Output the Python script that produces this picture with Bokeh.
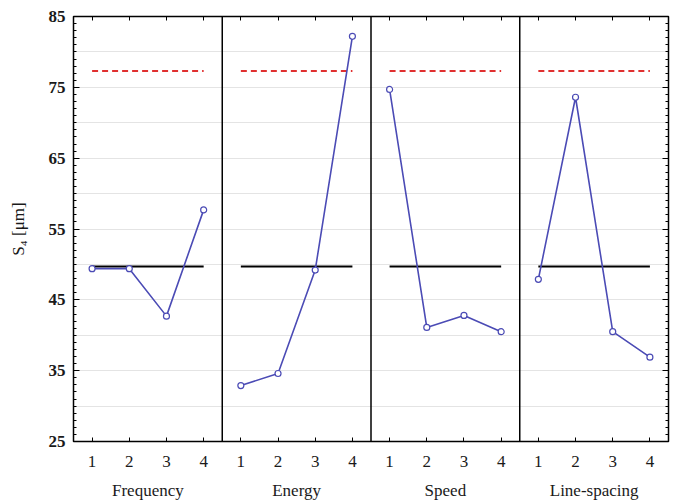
from bokeh.plotting import figure
from bokeh.models import Range1d, LinearAxis, FixedTicker, Span
from bokeh.embed import file_html
from bokeh.resources import INLINE

factors = ["Frequency", "Energy", "Speed", "Line-spacing"]
levels = [1, 2, 3, 4]
frequency = [49.4, 49.4, 42.7, 57.7]
energy = [32.9, 34.6, 49.2, 82.2]
speed = [74.7, 41.1, 42.8, 40.5]
line_spacing = [47.9, 73.6, 40.5, 36.9]
series = [frequency, energy, speed, line_spacing]
mean_value = 49.7
limit_value = 77.3
y_ticks = [25, 35, 45, 55, 65, 75, 85]

FONT = "Liberation Serif"
BLUE = "#4b4bb5"
TXT = "#1a1a1a"

p = figure(width=678, height=502, output_backend="svg", toolbar_location=None,
           x_range=Range1d(0.5, 16.5), y_range=Range1d(25, 85),
           min_border_left=73, min_border_right=10, min_border_top=16, min_border_bottom=61,
           x_axis_location=None, y_axis_location=None)
p.outline_line_color = "black"
p.outline_line_width = 1.5
p.background_fill_color = "white"

yt = FixedTicker(ticks=y_ticks, minor_ticks=list(range(25, 86)))
xt = FixedTicker(ticks=[4 * k + j for k in range(4) for j in levels])

# grid
p.xgrid.visible = False
p.ygrid.ticker = FixedTicker(ticks=list(range(30, 85, 5)))
p.ygrid.grid_line_color = "#e4e4e4"
p.ygrid.grid_line_width = 1

left = LinearAxis(ticker=yt, axis_label="S\u2084 [\u03bcm]")
left.major_tick_in = 6
left.major_tick_out = 0
left.minor_tick_in = 3
left.minor_tick_out = 0
left.major_label_text_font = FONT
left.major_label_text_font_size = "17px"
left.major_label_text_font_style = "bold"
left.major_label_text_color = TXT
left.axis_label_text_font = FONT
left.axis_label_text_font_size = "17px"
left.axis_label_text_font_style = "normal"
left.axis_label_text_color = TXT
left.axis_label_standoff = 18
left.major_label_standoff = 8
p.add_layout(left, "left")

right = LinearAxis(ticker=yt)
right.major_tick_in = 6
right.major_tick_out = 0
right.minor_tick_in = 3
right.minor_tick_out = 0
right.major_label_text_font_size = "0px"
right.major_label_text_color = None
p.add_layout(right, "right")

bottom = LinearAxis(ticker=xt)
bottom.major_label_overrides = {4 * k + j: str(j) for k in range(4) for j in levels}
bottom.major_tick_in = 4
bottom.major_tick_out = 0
bottom.minor_tick_line_color = None
bottom.major_label_text_font = FONT
bottom.major_label_text_font_size = "17px"
bottom.major_label_text_color = TXT
bottom.major_label_standoff = 14
p.add_layout(bottom, "below")

names = LinearAxis(ticker=FixedTicker(ticks=[4 * k + 2.5 for k in range(4)]))
names.major_label_overrides = {4 * k + 2.5: f for k, f in enumerate(factors)}
names.major_tick_line_color = None
names.minor_tick_line_color = None
names.axis_line_color = None
names.major_label_text_font = FONT
names.major_label_text_font_size = "17px"
names.major_label_text_color = TXT
names.major_label_standoff = 5
p.add_layout(names, "below")

top = LinearAxis(ticker=xt)
top.major_tick_in = 4
top.major_tick_out = 0
top.minor_tick_line_color = None
top.major_label_text_font_size = "0px"
top.major_label_text_color = None
p.add_layout(top, "above")

for k in range(3):
    p.add_layout(Span(location=4 * k + 4.5, dimension="height", line_color="black", line_width=1.5))

for k, vals in enumerate(series):
    xs = [4 * k + j for j in levels]
    p.line([xs[0], xs[-1]], [limit_value, limit_value], line_color="#e03030", line_width=2, line_dash="6 4")
    p.line([xs[0], xs[-1]], [mean_value, mean_value], line_color="black", line_width=2)
    p.line(xs, vals, line_color=BLUE, line_width=1.6)
    p.scatter(xs, vals, marker="circle", size=6, fill_color="white", line_color=BLUE, line_width=1.2)

open("out.html", "w").write(file_html(p, INLINE))
